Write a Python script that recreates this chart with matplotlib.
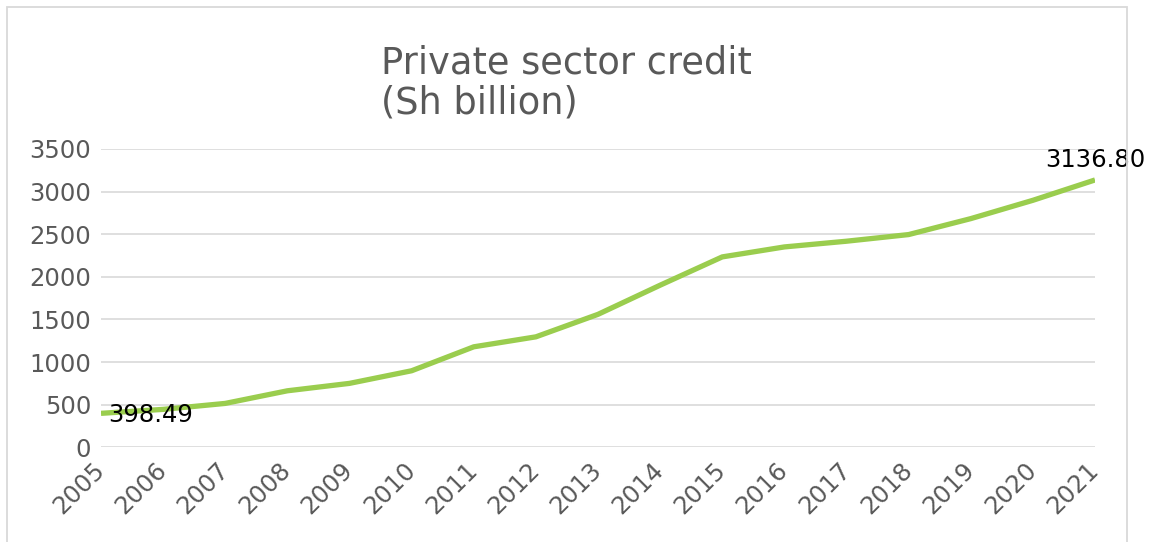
import matplotlib
matplotlib.use("Agg")
import matplotlib.pyplot as plt
from matplotlib.patches import Rectangle

# Private sector credit, Sh billion
years = [2005, 2006, 2007, 2008, 2009, 2010, 2011, 2012, 2013,
         2014, 2015, 2016, 2017, 2018, 2019, 2020, 2021]
credit = [398.49, 445, 515, 663, 750, 898, 1179, 1296, 1560,
          1902, 2234, 2351, 2418, 2496, 2683, 2898, 3136.80]
yticks = [0, 500, 1000, 1500, 2000, 2500, 3000, 3500]

GREEN = "#9ACD4E"
GREY_TXT = "#595959"
GRID = "#D9D9D9"

fig = plt.figure(figsize=(11.5, 5.42), dpi=100)
ax = fig.add_axes([101 / 1150, 1 - 447.3 / 542, (1095 - 101) / 1150, (447.3 - 149) / 542])

ax.plot(years, credit, color=GREEN, lw=3.8, solid_capstyle="butt", zorder=3)

ax.set_xlim(years[0], years[-1])
ax.set_ylim(0, 3500)
ax.set_xticks(years)
ax.set_xticklabels([str(y) for y in years], rotation=45, ha="right",
                   va="center", rotation_mode="anchor")
ax.set_yticks(yticks)
ax.tick_params(axis="both", length=0, labelsize=17.5, labelcolor=GREY_TXT)
ax.tick_params(axis="x", pad=14)
ax.tick_params(axis="y", pad=7)
ax.grid(axis="y", color=GRID, lw=1.2)
ax.set_axisbelow(True)
for s in ax.spines.values():
    s.set_visible(False)

# end-point value labels
ax.annotate(f"{credit[0]:.2f}", (years[0], credit[0]), xytext=(5, -1.5),
            textcoords="offset points", ha="left", va="center",
            fontsize=17.5, color="black")
ax.annotate(f"{credit[-1]:.2f}", (years[-1], credit[-1]), xytext=(0, 6),
            textcoords="offset points", ha="center", va="bottom",
            fontsize=17.5, color="black")

# va="baseline" anchors the last line of the title
fig.text(381 / 1150, 1 - 113.5 / 542, "Private sector credit\n(Sh billion)",
         ha="left", va="baseline", fontsize=26.5, color=GREY_TXT,
         linespacing=1.12)

# chart area border
fig.add_artist(Rectangle((7 / 1150, -0.05), (1127 - 7) / 1150, 1.05 - 7 / 542,
                         transform=fig.transFigure, fill=False,
                         edgecolor=GRID, lw=1.3))

fig.savefig("out.png", dpi=100)
